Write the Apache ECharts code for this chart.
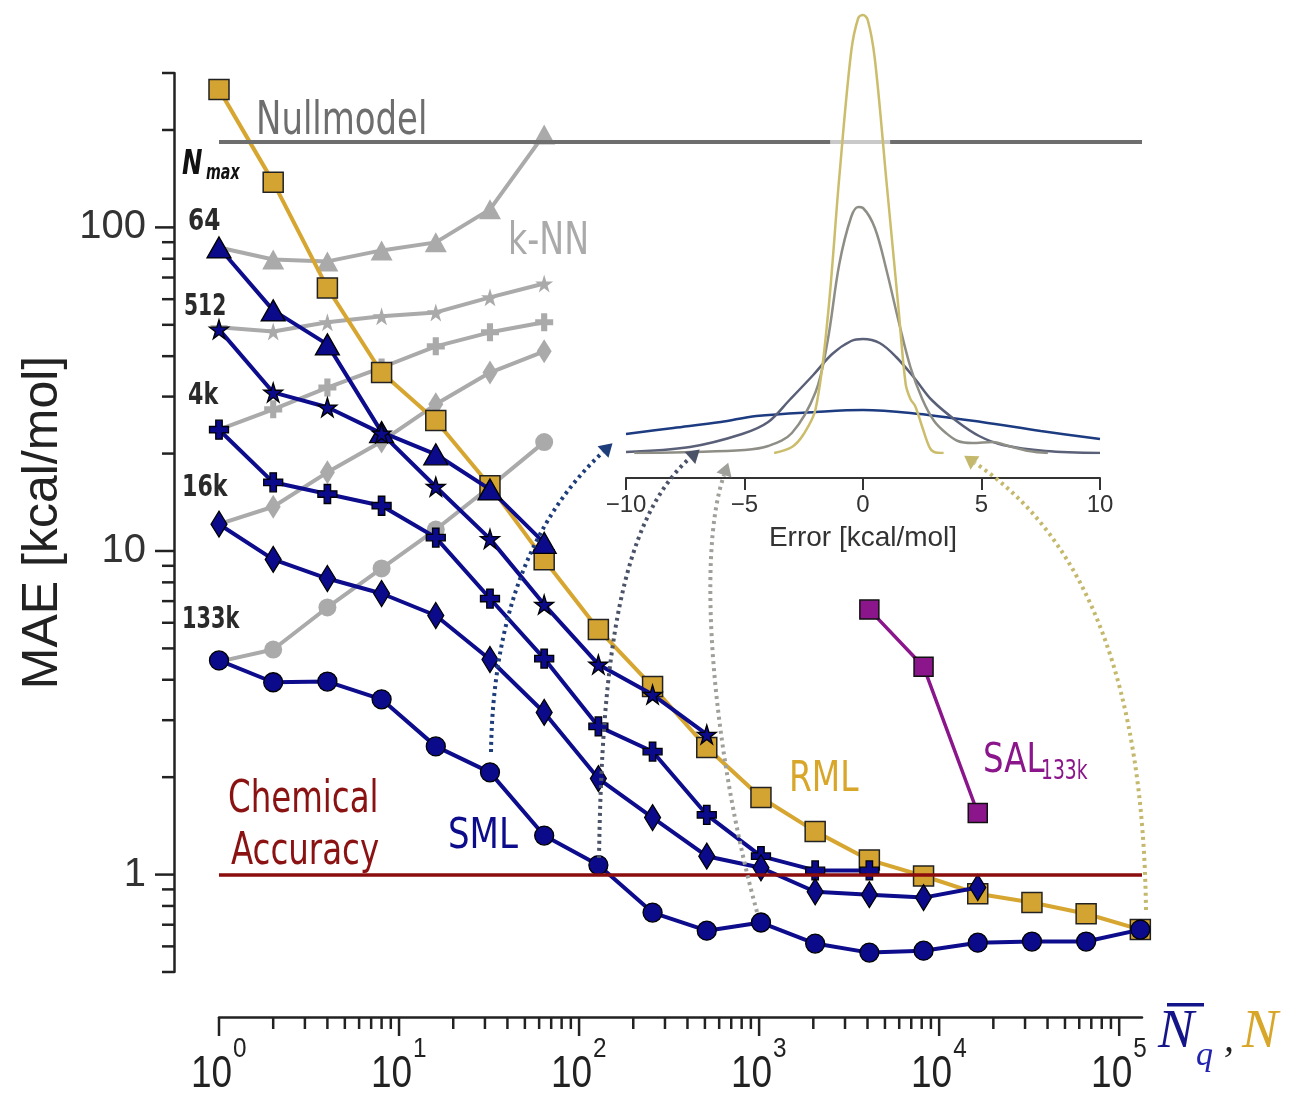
<!DOCTYPE html>
<html>
<head>
<meta charset="utf-8">
<script src="https://cdn.jsdelivr.net/npm/echarts@6/dist/echarts.min.js"></script>
<style>
  html, body { margin: 0; padding: 0; background: #fff; }
  #main { width: 1291px; height: 1096px; }
</style>
</head>
<body>
<div id="main"></div>
<script>
// training set sizes (powers of 2)
var nq = [1, 2, 4, 8, 16, 32, 64, 128, 256, 512, 1024, 2048, 4096, 8192, 16384, 32768, 65536, 131072];

// SML learning curves (MAE, kcal/mol), one per Nmax
var sml64   = [86.7, 55.4, 43.5, 23.3, 19.9, 15.5, 10.6];
var sml512  = [48.4, 30.9, 27.8, 23.1, 15.8, 10.9, 6.83, 4.46, 3.6, 2.71];
var sml4k   = [23.7, 16.3, 15.0, 13.8, 11.0, 7.13, 4.65, 2.87, 2.40, 1.53, 1.14, 1.03, 1.03];
var sml16k  = [12.1, 9.42, 8.22, 7.39, 6.32, 4.62, 3.17, 1.98, 1.50, 1.14, 1.05, 0.885, 0.867, 0.849, 0.912];
var sml133k = [4.59, 3.93, 3.95, 3.48, 2.49, 2.07, 1.32, 1.07, 0.763, 0.671, 0.711, 0.612, 0.574, 0.582, 0.616, 0.621, 0.621, 0.676];

// k-NN curves
var knn64   = [86.7, 79.6, 78.5, 84.9, 89.9, 113.7, 193.8];
var knn512  = [49.1, 47.7, 50.9, 53.1, 54.6, 60.8, 67.1];
var knn4k   = [23.7, 27.4, 32.0, 36.9, 42.9, 47.4, 50.9];
var knn16k  = [12.1, 13.7, 17.5, 21.8, 28.4, 35.6, 41.4];
var knn133k = [4.55, 4.96, 6.69, 8.83, 11.65, 15.8, 21.7];

// RML and SAL
var rml = [267, 138, 65, 35.6, 25.3, 15.9, 9.4, 5.72, 3.81, 2.47, 1.73, 1.36, 1.11, 0.99, 0.873, 0.82, 0.757, 0.676];
var salX = [4096, 8192, 16384];
var sal  = [6.59, 4.39, 1.55];

var nullModel = 184.5;
var nullFadeX = [2480, 5345];
var chemAcc = 1;

// axis ticks
var xMajor = [1, 10, 100, 1000, 10000, 100000];
var yMajor = [1, 10, 100];
var minorSteps = [2, 3, 4, 5, 6, 7, 8, 9];

// inset: error distributions (density, a.u.)
var navyX  = [-10, -8, -6, -4.5, -2, 0, 2, 5, 7.5, 10];
var navyD  = [0.19, 0.25, 0.31, 0.37, 0.41, 0.43, 0.40, 0.31, 0.22, 0.14];
var slateX = [-10, -7.3, -5.1, -4, -3.1, -2.1, -1.3, -0.5, 0, 0.7, 1.4, 2.2, 2.9, 4, 4.9, 5.9, 7.7, 10];
var slateD = [0.01, 0.06, 0.19, 0.31, 0.53, 0.78, 0.99, 1.12, 1.14, 1.10, 0.96, 0.74, 0.53, 0.31, 0.17, 0.08, 0.02, 0];
var grayX  = [-9.65, -7.3, -5, -4, -3, -2, -1.5, -1, -0.5, -0.2, 0, 0.5, 1, 1.5, 2, 2.5, 3, 3.5, 4, 4.6, 5.5, 6, 7, 7.8];
var grayD  = [0, 0.01, 0.03, 0.07, 0.20, 0.61, 1.11, 1.89, 2.36, 2.46, 2.45, 2.25, 1.82, 1.32, 0.86, 0.54, 0.32, 0.20, 0.12, 0.10, 0.11, 0.08, 0.02, 0];
var yellX  = [-3.75, -3, -2.5, -2, -1.5, -1, -0.5, -0.2, 0, 0.2, 0.5, 1, 1.5, 1.8, 2, 2.2, 2.5, 2.8, 3, 3.4];
var yellD  = [0, 0.06, 0.19, 0.44, 1.33, 2.76, 4.01, 4.35, 4.38, 4.33, 3.94, 2.69, 1.44, 0.69, 0.54, 0.47, 0.26, 0.06, 0.01, 0];

var AXIS_OFF = 45;
var NAVY = '#0c0c8c';
var GOLD = '#d6a631';
var GRAY = '#aaaaaa';
var NARROW = '"DejaVu Sans Condensed","DejaVu Sans",sans-serif';
var STAR = 'path://M50,0 L61,35 L98,35 L68,57 L79,91 L50,70 L21,91 L32,57 L2,35 L39,35 Z';
var PLUS = 'path://M33,0 H67 V33 H100 V67 H67 V100 H33 V67 H0 V33 H33 Z';

function pairs(xs, ys) {
  return ys.map(function (v, i) { return [xs[i], v]; });
}

function minorTicks(lo, hi) {
  var out = [];
  for (var d = 0.1; d <= 1e5; d *= 10) {
    minorSteps.forEach(function (s) {
      var v = +(s * d).toPrecision(6);
      if (v >= lo && v <= hi) out.push(v);
    });
  }
  return out;
}

function isPow10(v) {
  var l = Math.log10(v);
  return Math.abs(l - Math.round(l)) < 1e-6;
}

function lineSeries(name, data, color, symbol, size, opts) {
  var s = {
    name: name,
    type: 'line',
    data: data,
    symbol: symbol,
    symbolSize: size,
    showSymbol: true,
    lineStyle: { color: color, width: 4 },
    itemStyle: { color: color },
    z: 2,
    animation: false
  };
  if (opts) for (var k in opts) s[k] = opts[k];
  return s;
}

function navySeries(name, ys, symbol, size) {
  return lineSeries(name, pairs(nq, ys), NAVY, symbol, size, {
    itemStyle: { color: '#0a0a8a', borderColor: '#000', borderWidth: 1.3 },
    z: 4
  });
}

function grayKnn(name, ys, symbol, size) {
  return lineSeries(name, pairs(nq, ys), GRAY, symbol, size, { z: 2 });
}

function insetCurve(xs, ys, color) {
  return {
    type: 'line', xAxisIndex: 1, yAxisIndex: 1, data: pairs(xs, ys),
    smooth: 0.35, showSymbol: false, z: 5,
    lineStyle: { color: color, width: 2.5 }
  };
}

var chart = echarts.init(document.getElementById('main'), null, { renderer: 'canvas' });

var yTicks = yMajor.map(function (v) { return [1, v, 19]; })
  .concat(minorTicks(0.5, 300).map(function (v) { return [1, v, 12]; }));
var xTicks = xMajor.map(function (v) { return [v, 0.5, 19]; })
  .concat(minorTicks(1, 133885).map(function (v) { return [v, 0.5, 12]; }));
var xLabels = xMajor.map(function (v) { return [v, 0.5, Math.round(Math.log10(v))]; });

var option = {
  backgroundColor: '#fff',
  animation: false,
  textStyle: { fontFamily: 'Liberation Sans' },
  grid: [
    { left: 219, right: 149, top: 73, bottom: 124 },
    { left: 626, right: 191, top: 13, bottom: 643 }
  ],
  xAxis: [{
    type: 'log',
    gridIndex: 0,
    min: 1,
    max: 133885,
    offset: AXIS_OFF,
    axisLine: { onZero: false, lineStyle: { color: '#222', width: 2.5 } },
    axisTick: { show: false },
    splitLine: { show: false },
    axisLabel: { show: false }
  }, {
    type: 'value',
    gridIndex: 1,
    min: -10,
    max: 10,
    interval: 5,
    offset: 25,
    axisLine: { onZero: false, lineStyle: { color: '#333', width: 2 } },
    axisTick: { length: 12, lineStyle: { color: '#333', width: 2 } },
    splitLine: { show: false },
    axisLabel: {
      margin: 15,
      fontSize: 24,
      color: '#333',
      formatter: function (v) { return v < 0 ? '\u2212' + (-v) : '' + v; }
    },
    name: 'Error [kcal/mol]',
    nameLocation: 'middle',
    nameGap: 46,
    nameTextStyle: { fontSize: 28, color: '#333' }
  }],
  yAxis: [{
    type: 'log',
    gridIndex: 0,
    min: 0.5,
    max: 300,
    offset: AXIS_OFF,
    axisLine: { onZero: false, lineStyle: { color: '#222', width: 2.5 } },
    axisTick: { show: false },
    splitLine: { show: false },
    axisLabel: {
      margin: 28,
      fontSize: 40,
      color: '#333',
      formatter: function (v) { return isPow10(v) ? '' + Math.round(v) : ''; }
    },
    name: 'MAE [kcal/mol]',
    nameLocation: 'middle',
    nameGap: 106,
    nameRotate: 90,
    nameTextStyle: { fontSize: 50, color: '#222' }
  }, {
    type: 'value',
    gridIndex: 1,
    min: 0,
    max: 4.4,
    show: false
  }],
  series: [
    // reference lines
    {
      name: 'refs',
      type: 'line',
      data: [],
      z: 1,
      markLine: {
        silent: true,
        symbol: 'none',
        label: { show: false },
        animation: false,
        data: [
          { yAxis: nullModel, lineStyle: { color: '#6e6e6e', width: 4, type: 'solid' } },
          [{ coord: [nullFadeX[0], nullModel], lineStyle: { color: '#c9c9c9', width: 4, type: 'solid' } },
           { coord: [nullFadeX[1], nullModel] }],
          { yAxis: chemAcc, lineStyle: { color: '#8b0d0d', width: 3.5, type: 'solid' } }
        ]
      }
    },
    grayKnn('kNN 64', knn64, 'triangle', [22, 20]),
    grayKnn('kNN 512', knn512, STAR, 18),
    grayKnn('kNN 4k', knn4k, PLUS, 18),
    grayKnn('kNN 16k', knn16k, 'diamond', [15, 24]),
    grayKnn('kNN 133k', knn133k, 'circle', 18),
    lineSeries('RML', pairs(nq, rml), GOLD, 'rect', 20, {
      lineStyle: { color: GOLD, width: 4 },
      itemStyle: { color: '#d4a432', borderColor: '#222', borderWidth: 1.5 },
      z: 3
    }),
    lineSeries('SAL133k', pairs(salX, sal), '#8b168b', 'rect', 19, {
      lineStyle: { color: '#8b168b', width: 3.5 },
      itemStyle: { color: '#8b168b', borderColor: '#111', borderWidth: 1.5 },
      z: 3
    }),
    navySeries('SML 64', sml64, 'triangle', [24, 21]),
    navySeries('SML 512', sml512, STAR, 19),
    navySeries('SML 4k', sml4k, PLUS, 19),
    navySeries('SML 16k', sml16k, 'diamond', [16, 26]),
    navySeries('SML 133k', sml133k, 'circle', 19),
    // inset distributions
    insetCurve(navyX, navyD, '#1c3b80'),
    insetCurve(slateX, slateD, '#5a6078'),
    insetCurve(grayX, grayD, '#8e8e86'),
    insetCurve(yellX, yellD, '#cbbd6c'),
    // axis ticks (major + log minor), drawn through the axis scales
    {
      type: 'custom',
      xAxisIndex: 0, yAxisIndex: 0,
      clip: false, silent: true, z: 6,
      data: yTicks,
      renderItem: function (params, api) {
        var p = api.coord([1, api.value(1)]);
        var x0 = p[0] - AXIS_OFF;
        return { type: 'line', shape: { x1: x0, y1: p[1], x2: x0 - api.value(2), y2: p[1] },
                 style: { stroke: '#222', lineWidth: 2.5 } };
      }
    },
    {
      type: 'custom',
      xAxisIndex: 0, yAxisIndex: 0,
      clip: false, silent: true, z: 6,
      data: xTicks,
      renderItem: function (params, api) {
        var p = api.coord([api.value(0), 0.5]);
        var y0 = p[1] + AXIS_OFF;
        return { type: 'line', shape: { x1: p[0], y1: y0, x2: p[0], y2: y0 + api.value(2) },
                 style: { stroke: '#222', lineWidth: 2.5 } };
      }
    },
    // x tick labels 10^k
    {
      type: 'custom',
      xAxisIndex: 0, yAxisIndex: 0,
      clip: false, silent: true, z: 6,
      data: xLabels,
      renderItem: function (params, api) {
        var p = api.coord([api.value(0), 0.5]);
        var y0 = p[1] + AXIS_OFF;
        return { type: 'group', children: [
          { type: 'text', x: p[0] + 13, y: y0 + 58, scaleX: 0.84,
            style: { text: '10', font: '44px "Liberation Sans"', fill: '#222', align: 'right', verticalAlign: 'middle' } },
          { type: 'text', x: p[0] + 14, y: y0 + 33, scaleX: 0.9,
            style: { text: '' + api.value(2), font: '27px "Liberation Sans"', fill: '#222', align: 'left', verticalAlign: 'middle' } }
        ] };
      }
    }
  ]
};

chart.setOption(option);

// ---- annotations: labels and dotted arrows ----
function txt(s, x, y, font, color, sx) {
  return { type: 'text', z: 20, silent: true, x: x, y: y, scaleX: sx || 1,
           style: { text: s, x: 0, y: 0, font: font, fill: color, align: 'left', verticalAlign: 'middle' } };
}

function arrow(pts, color) {
  var s = pts[0], c1 = pts[1], c2 = pts[2], e = pts[3];
  var dx = e[0] - c2[0], dy = e[1] - c2[1];
  var len = Math.sqrt(dx * dx + dy * dy);
  dx /= len; dy /= len;
  var tip = [e[0] + dx * 13, e[1] + dy * 13];
  var bl = [e[0] - dy * 8, e[1] + dx * 8];
  var br = [e[0] + dy * 8, e[1] - dx * 8];
  return [
    { type: 'bezierCurve', z: 19, silent: true,
      shape: { x1: s[0], y1: s[1], cpx1: c1[0], cpy1: c1[1], cpx2: c2[0], cpy2: c2[1], x2: e[0], y2: e[1] },
      style: { stroke: color, lineWidth: 4, lineDash: [3, 4], fill: null } },
    { type: 'polygon', z: 19, silent: true,
      shape: { points: [tip, bl, br] }, style: { fill: color } }
  ];
}

var graphics = [
  txt('Nullmodel', 256, 122, '46px ' + NARROW, '#6e6e6e', 0.82),
  txt('k-NN', 508, 243, '44px ' + NARROW, '#aaaaaa', 0.84),
  txt('Chemical', 228, 801, '44px ' + NARROW, '#8b1212', 0.82),
  txt('Accuracy', 231, 853, '44px ' + NARROW, '#8b1212', 0.82),
  txt('SML', 448, 837, '42px ' + NARROW, '#0d0d8c', 0.9),
  txt('RML', 789, 780, '42px ' + NARROW, '#d8a628', 0.87),
  txt('SAL', 983, 762, '40px ' + NARROW, '#8b168b', 0.9),
  txt('133k', 1041, 772, '26px ' + NARROW, '#8b168b', 0.8),
  txt('N', 182, 165, 'italic bold 34px ' + NARROW, '#111', 0.8),
  txt('max', 206, 173, 'italic bold 22px ' + NARROW, '#111', 0.72),
  txt('64', 188, 222, 'bold 30px ' + NARROW, '#2a2a2a', 0.86),
  txt('512', 184, 307, 'bold 30px ' + NARROW, '#2a2a2a', 0.75),
  txt('4k', 188, 396, 'bold 30px ' + NARROW, '#2a2a2a', 0.82),
  txt('16k', 182, 488, 'bold 30px ' + NARROW, '#2a2a2a', 0.82),
  txt('133k', 182, 620, 'bold 30px ' + NARROW, '#2a2a2a', 0.77),
  txt('N', 1158, 1033, 'italic 54px "Liberation Serif"', '#15158a'),
  { type: 'rect', z: 20, silent: true, shape: { x: 1167, y: 1003, width: 37, height: 3.5 }, style: { fill: '#15158a' } },
  txt('q', 1196, 1056, 'italic 34px "Liberation Serif"', '#2323b0'),
  txt(',', 1224, 1040, 'italic 40px "Liberation Serif"', '#222'),
  txt('N', 1242, 1033, 'italic 54px "Liberation Serif"', '#d8a628')
];

graphics = graphics
  .concat(arrow([[491, 752], [493, 620], [530, 520], [603, 452]], '#1e3d7b'))
  .concat(arrow([[599, 858], [602, 660], [620, 520], [690, 458]], '#4b5368'))
  .concat(arrow([[757, 912], [715, 760], [695, 560], [724, 475]], '#a0a09a'))
  .concat(arrow([[1146, 910], [1143, 690], [1090, 540], [975, 463]], '#c4b86c'));

chart.setOption({ graphic: graphics });
</script>
</body>
</html>
